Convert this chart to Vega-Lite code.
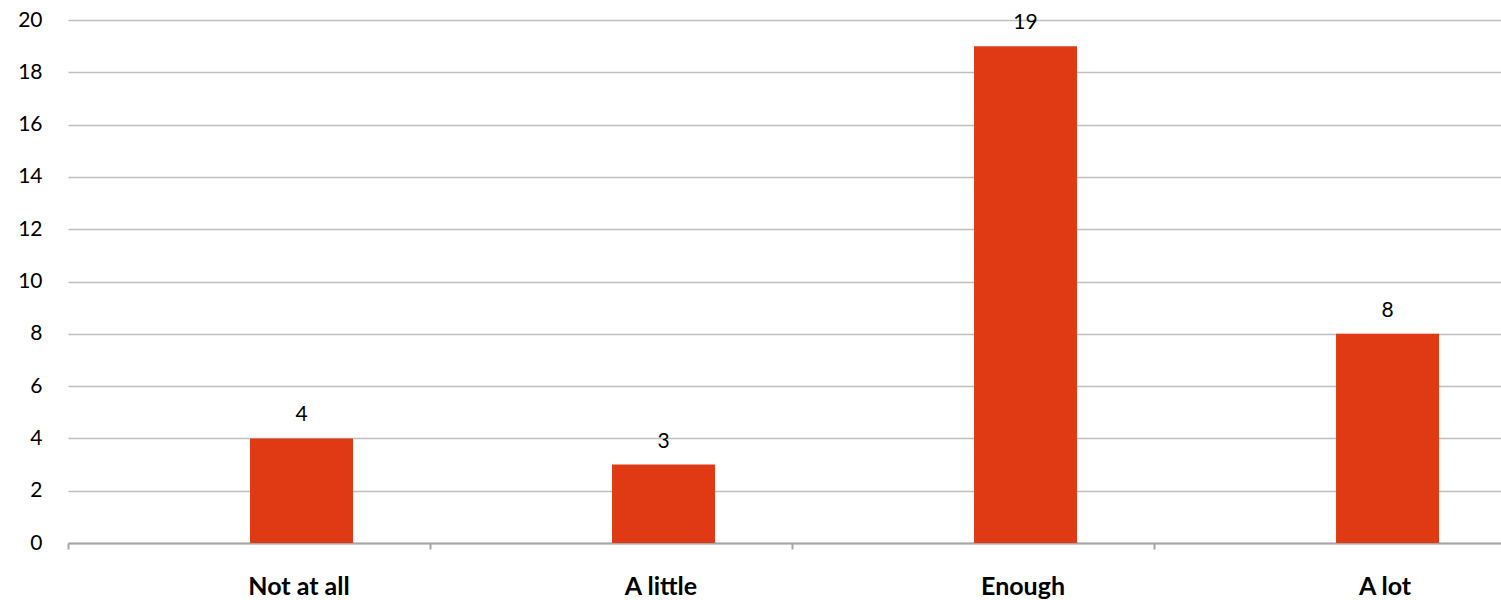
{
  "$schema": "https://vega.github.io/schema/vega-lite/v6.json",
  "width": 1433,
  "height": 523,
  "autosize": {"type": "none"},
  "padding": {"left": 68, "top": 20, "right": 0, "bottom": 57},
  "background": "white",
  "config": {"view": {"stroke": null}, "font": "Lato"},
  "data": {"values": [
    {"category": "Not at all", "value": 4},
    {"category": "A little", "value": 3},
    {"category": "Enough", "value": 19},
    {"category": "A lot", "value": 8}
  ]},
  "encoding": {
    "x": {
      "field": "category", "type": "nominal", "sort": null,
      "scale": {"paddingInner": 0.7155, "paddingOuter": 0.337, "align": 0.746},
      "axis": {
        "title": null, "labelAngle": 0, "labelFont": "Lato", "labelFontSize": 25,
        "labelFontWeight": "bold", "labelColor": "#000000", "labelPadding": 25,
        "labelAlign": "center", "labelOffset": 179,
        "domainColor": "#A6A6A6", "domainWidth": 2, "tickColor": "#A6A6A6", "tickWidth": 2,
        "tickSize": 6, "bandPosition": 0, "tickOffset": -182, "grid": false
      }
    },
    "y": {
      "field": "value", "type": "quantitative",
      "scale": {"domain": [0, 20], "nice": false},
      "axis": {
        "title": null, "values": [0, 2, 4, 6, 8, 10, 12, 14, 16, 18, 20],
        "labelFont": "Lato", "labelFontSize": 21, "labelColor": "#000000",
        "labelPadding": 26, "domain": false, "ticks": false,
        "gridColor": "#BFBFBF", "gridWidth": 1.5
      }
    }
  },
  "layer": [
    {"mark": {"type": "bar", "color": "#E03A14"}},
    {
      "mark": {"type": "text", "baseline": "bottom", "dy": -13, "fontSize": 21, "font": "Lato", "color": "#000000"},
      "encoding": {"text": {"field": "value", "type": "quantitative"}}
    }
  ]
}
